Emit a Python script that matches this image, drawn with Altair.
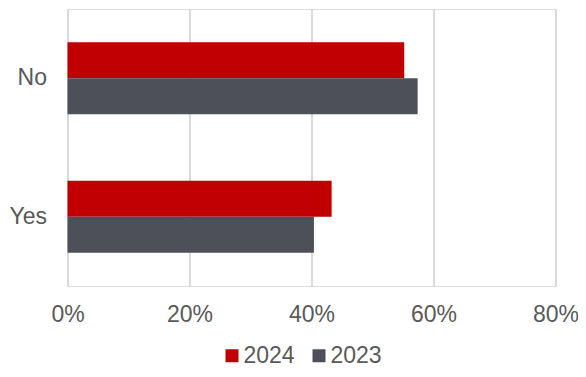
import altair as alt
import pandas as pd

categories = ["No", "Yes"]
years = ["2024", "2023"]
values_2024 = [0.552, 0.433]
values_2023 = [0.574, 0.404]
x_ticks = [0, 0.2, 0.4, 0.6, 0.8]
colors = ["#C00000", "#4D5058"]

rows = []
for i, c in enumerate(categories):
    rows.append({"category": c, "year": "2024", "value": values_2024[i]})
    rows.append({"category": c, "year": "2023", "value": values_2023[i]})
df = pd.DataFrame(rows)

FONT = "Liberation Sans"
TXT = "#595959"

chart = (
    alt.Chart(df)
    .mark_bar()
    .encode(
        x=alt.X(
            "value:Q",
            scale=alt.Scale(domain=[0, 0.8], nice=False),
            axis=alt.Axis(
                values=x_ticks,
                format=".0%",
                title=None,
                domain=False,
                ticks=False,
                tickSize=0,
                labelFlush=False,
                labelPadding=17,
                labelFont=FONT,
                labelFontSize=23,
                labelColor=TXT,
                grid=True,
                gridColor="#D9D9D9",
                gridWidth=2,
            ),
        ),
        y=alt.Y(
            "category:N",
            sort=categories,
            scale=alt.Scale(paddingInner=0.48, paddingOuter=0.24),
            axis=alt.Axis(
                title=None,
                domain=False,
                ticks=False,
                grid=False,
                labelPadding=21,
                labelFont=FONT,
                labelFontSize=23,
                labelColor=TXT,
            ),
        ),
        yOffset=alt.YOffset("year:N", sort=years),
        color=alt.Color(
            "year:N",
            scale=alt.Scale(domain=years, range=colors),
            legend=alt.Legend(
                title=None,
                orient="none",
                direction="horizontal",
                legendX=153,
                legendY=335,
                padding=0,
                symbolType="square",
                symbolSize=169,
                symbolStrokeWidth=0,
                labelFont=FONT,
                labelFontSize=23,
                labelColor=TXT,
                labelOffset=0,
                columnPadding=12,
            ),
        ),
    )
    .properties(
        width=488,
        height=277,
        autosize=alt.AutoSizeParams(type="none"),
        padding={"left": 59.5, "top": 1, "right": 22.5, "bottom": 83},
    )
    .configure_view(stroke="transparent", strokeWidth=0, strokeOpacity=0)
    .configure(background="white")
)

chart.save("out.html", embed_options={"renderer": "svg", "actions": False})
